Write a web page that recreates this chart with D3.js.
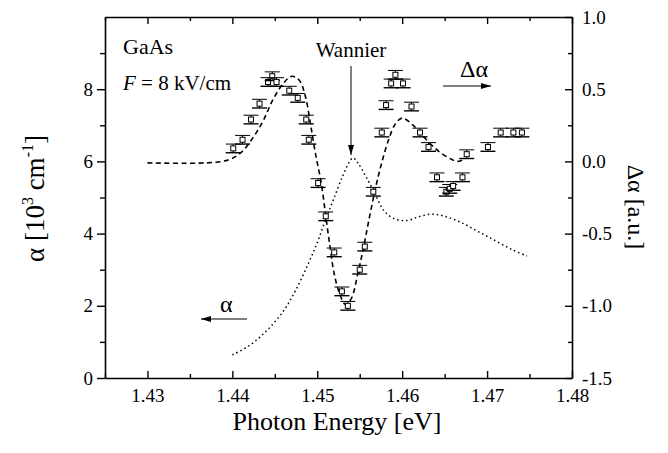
<!DOCTYPE html>
<html>
<head>
<meta charset="utf-8">
<script src="https://cdn.jsdelivr.net/npm/d3@7"></script>
<style>
  html, body { margin: 0; padding: 0; background: #fff; }
  svg, svg text { font-family: "Liberation Serif", "Times New Roman", Tinos, "DejaVu Serif", serif; }
</style>
</head>
<body>
<div id="chart"></div>
<script>
// --------------- Data ---------------
const X_TICKS = [1.43, 1.44, 1.45, 1.46, 1.47, 1.48];
const X_MINOR = [1.425, 1.435, 1.445, 1.455, 1.465, 1.475];
const ALPHA_TICKS = [0, 2, 4, 6, 8];
const ALPHA_MINOR = [1, 3, 5, 7, 9];
const DELTA_TICKS = [-1.5, -1.0, -0.5, 0.0, 0.5, 1.0];
const DELTA_MINOR = [-1.25, -0.75, -0.25, 0.25, 0.75];

// measured delta-alpha with error bars (right axis)
const pointE = [1.4401, 1.4412, 1.4422, 1.4432, 1.4442, 1.4447, 1.4452, 1.4467, 1.4477, 1.4487,
  1.4490, 1.4501, 1.4510, 1.4520, 1.4529, 1.4536, 1.4550, 1.4556, 1.4566, 1.4576,
  1.4581, 1.4587, 1.4592, 1.4601, 1.4611, 1.4621, 1.4631, 1.4641, 1.4652, 1.4656,
  1.4660, 1.4671, 1.4676, 1.4701, 1.4716, 1.4731, 1.4741];
const pointDelta = [0.09, 0.15, 0.29, 0.40, 0.55, 0.59, 0.55, 0.49, 0.44, 0.29,
  0.15, -0.15, -0.38, -0.63, -0.90, -1.00, -0.75, -0.59, -0.21, 0.20,
  0.39, 0.54, 0.60, 0.54, 0.38, 0.20, 0.10, -0.11, -0.21, -0.19,
  -0.17, -0.11, 0.05, 0.10, 0.20, 0.20, 0.20];
const pointErr = 0.03;

// dashed fit of delta-alpha (right axis)
const fitE = [1.4300, 1.4370, 1.4395, 1.4410, 1.4425, 1.4437, 1.4448, 1.4460, 1.4470, 1.4479,
  1.4486, 1.4492, 1.4498, 1.4505, 1.4510, 1.4515, 1.4520, 1.4526, 1.4533, 1.4540,
  1.4548, 1.4554, 1.4560, 1.4568, 1.4575, 1.4584, 1.4592, 1.4600, 1.4613, 1.4627,
  1.4643, 1.4658, 1.4665, 1.4675];
const fitDelta = [-0.01, -0.01, 0.01, 0.06, 0.17, 0.29, 0.43, 0.54, 0.59, 0.56,
  0.45, 0.26, 0.05, -0.16, -0.38, -0.59, -0.78, -0.91, -0.99, -0.95,
  -0.77, -0.61, -0.43, -0.20, -0.03, 0.15, 0.26, 0.30, 0.25, 0.16,
  0.07, 0.015, 0.0, 0.02];

// dotted absorption alpha (left axis)
const absE = [1.4400, 1.4420, 1.4440, 1.4460, 1.4475, 1.4490, 1.4500, 1.4510, 1.4520, 1.4530,
  1.4537, 1.4542, 1.4548, 1.4558, 1.4568, 1.4578, 1.4590, 1.4605, 1.4620, 1.4635,
  1.4650, 1.4670, 1.4690, 1.4710, 1.4730, 1.4747];
const absAlpha = [0.64, 0.90, 1.30, 1.85, 2.45, 3.20, 3.75, 4.40, 5.00, 5.60,
  5.95, 6.10, 5.95, 5.55, 5.10, 4.65, 4.42, 4.36, 4.47, 4.54,
  4.48, 4.30, 4.05, 3.80, 3.55, 3.38];

// --------------- Layout ---------------
const WIDTH = 668;
const HEIGHT = 453;
const PLOT = { left: 105, right: 572, top: 17, bottom: 378 };
const FONT = "'Liberation Serif', 'Times New Roman', Tinos, 'DejaVu Serif', serif";
const TICK_FONT = 19;
const LABEL_FONT = 26;

const svg = d3.select("#chart")
  .append("svg")
  .attr("width", WIDTH)
  .attr("height", HEIGHT)
  .attr("font-family", FONT);

const x = d3.scaleLinear().domain([1.425, 1.48]).range([PLOT.left, PLOT.right]);
const yAlpha = d3.scaleLinear().domain([0, 10]).range([PLOT.bottom, PLOT.top]);
const yDelta = d3.scaleLinear().domain([-1.5, 1.0]).range([PLOT.bottom, PLOT.top]);

// arrow head
svg.append("defs")
  .append("marker")
  .attr("id", "head")
  .attr("viewBox", "0 0 10 6")
  .attr("refX", 10)
  .attr("refY", 3)
  .attr("markerWidth", 10)
  .attr("markerHeight", 6)
  .attr("markerUnits", "userSpaceOnUse")
  .attr("orient", "auto")
  .append("path")
  .attr("d", "M0,0 L10,3 L0,6 Z")
  .attr("fill", "#000");

// --------------- Axes ---------------
function styleAxis(g) {
  g.attr("font-family", FONT);
  g.selectAll(".domain").attr("stroke", "#000").attr("stroke-width", 1.6);
  g.selectAll(".tick line").attr("stroke", "#000").attr("stroke-width", 1.4);
  g.selectAll("text")
    .attr("font-size", TICK_FONT)
    .attr("fill", "#000");
}

function minor(axis, values, size) {
  return g => {
    g.call(axis.tickValues(values).tickSizeInner(size).tickSizeOuter(0).tickFormat(""));
    g.select(".domain").remove();
    styleAxis(g);
  };
}

// bottom
svg.append("g")
  .attr("transform", `translate(0,${PLOT.bottom})`)
  .call(d3.axisBottom(x).tickValues(X_TICKS).tickFormat(d => d.toFixed(2))
    .tickSizeInner(-7).tickSizeOuter(0).tickPadding(11))
  .call(styleAxis);
svg.append("g")
  .attr("transform", `translate(0,${PLOT.bottom})`)
  .call(minor(d3.axisBottom(x), X_MINOR, -4));

// top
svg.append("g")
  .attr("transform", `translate(0,${PLOT.top})`)
  .call(d3.axisTop(x).tickValues(X_TICKS).tickFormat("").tickSizeInner(-7).tickSizeOuter(0))
  .call(styleAxis);
svg.append("g")
  .attr("transform", `translate(0,${PLOT.top})`)
  .call(minor(d3.axisTop(x), X_MINOR, -4));

// left
svg.append("g")
  .attr("transform", `translate(${PLOT.left},0)`)
  .call(d3.axisLeft(yAlpha).tickValues(ALPHA_TICKS).tickFormat(d3.format("d"))
    .tickSizeInner(8).tickSizeOuter(0).tickPadding(4))
  .call(styleAxis);
svg.append("g")
  .attr("transform", `translate(${PLOT.left},0)`)
  .call(minor(d3.axisLeft(yAlpha), ALPHA_MINOR, 5));

// right
svg.append("g")
  .attr("transform", `translate(${PLOT.right},0)`)
  .call(d3.axisRight(yDelta).tickValues(DELTA_TICKS).tickFormat(d => d.toFixed(1))
    .tickSizeInner(-7).tickSizeOuter(0).tickPadding(10))
  .call(styleAxis);
svg.append("g")
  .attr("transform", `translate(${PLOT.right},0)`)
  .call(minor(d3.axisRight(yDelta), DELTA_MINOR, -4));

// axis titles
svg.append("text")
  .attr("x", 337)
  .attr("y", 430)
  .attr("text-anchor", "middle")
  .attr("font-size", LABEL_FONT)
  .text("Photon Energy [eV]");

const leftTitle = svg.append("text")
  .attr("transform", "translate(44,262) rotate(-90)")
  .attr("text-anchor", "start")
  .attr("font-size", 27);
leftTitle.append("tspan").text("α [10");
leftTitle.append("tspan").attr("font-size", 16).attr("dy", -11).text("3");
leftTitle.append("tspan").attr("dy", 11).text(" cm");
leftTitle.append("tspan").attr("font-size", 16).attr("dy", -11).text("-1");
leftTitle.append("tspan").attr("dy", 11).text("]");

svg.append("text")
  .attr("transform", "translate(628,207) rotate(90)")
  .attr("text-anchor", "middle")
  .attr("font-size", 24)
  .text("Δα [a.u.]");

// --------------- Curves ---------------
const absLine = d3.line()
  .x(i => x(absE[i]))
  .y(i => yAlpha(absAlpha[i]))
  .curve(d3.curveCatmullRom);

svg.append("path")
  .attr("d", absLine(d3.range(absE.length)))
  .attr("fill", "none")
  .attr("stroke", "#000")
  .attr("stroke-width", 1.5)
  .attr("stroke-dasharray", "1.5,3");

const fitLine = d3.line()
  .x(i => x(fitE[i]))
  .y(i => yDelta(fitDelta[i]))
  .curve(d3.curveCatmullRom);

svg.append("path")
  .attr("d", fitLine(d3.range(fitE.length)))
  .attr("fill", "none")
  .attr("stroke", "#000")
  .attr("stroke-width", 1.6)
  .attr("stroke-dasharray", "5,3.5");

// --------------- Data points with error bars ---------------
const CAP = 7.5;
const BOX = 5;
const pts = svg.append("g")
  .selectAll("g")
  .data(d3.range(pointE.length))
  .enter()
  .append("g")
  .attr("transform", i => `translate(${x(pointE[i])},0)`);

pts.append("line")
  .attr("y1", i => yDelta(pointDelta[i] - pointErr))
  .attr("y2", i => yDelta(pointDelta[i] + pointErr))
  .attr("stroke", "#000");
pts.append("line")
  .attr("x1", -CAP).attr("x2", CAP)
  .attr("y1", i => yDelta(pointDelta[i] + pointErr))
  .attr("y2", i => yDelta(pointDelta[i] + pointErr))
  .attr("stroke", "#000");
pts.append("line")
  .attr("x1", -CAP).attr("x2", CAP)
  .attr("y1", i => yDelta(pointDelta[i] - pointErr))
  .attr("y2", i => yDelta(pointDelta[i] - pointErr))
  .attr("stroke", "#000")
  .attr("stroke-width", 1.4);
pts.append("rect")
  .attr("x", -BOX / 2)
  .attr("y", i => yDelta(pointDelta[i]) - BOX / 2)
  .attr("width", BOX)
  .attr("height", BOX)
  .attr("fill", "#fff")
  .attr("stroke", "#000");

// --------------- Annotations ---------------
svg.append("text").attr("x", 123).attr("y", 54).attr("font-size", 22).text("GaAs");

const field = svg.append("text").attr("x", 123).attr("y", 90).attr("font-size", 21);
field.append("tspan").attr("font-style", "italic").text("F");
field.append("tspan").text(" = 8 kV/cm");

svg.append("text")
  .attr("x", 351).attr("y", 57)
  .attr("text-anchor", "middle")
  .attr("font-size", 21)
  .text("Wannier");
svg.append("line")
  .attr("x1", 351).attr("y1", 66)
  .attr("x2", 351).attr("y2", 155)
  .attr("stroke", "#000")
  .attr("marker-end", "url(#head)");

svg.append("text").attr("x", 460).attr("y", 77).attr("font-size", 24).text("Δα");
svg.append("line")
  .attr("x1", 443).attr("y1", 86)
  .attr("x2", 491).attr("y2", 86)
  .attr("stroke", "#000")
  .attr("marker-end", "url(#head)");

svg.append("text").attr("x", 220).attr("y", 312).attr("font-size", 24).text("α");
svg.append("line")
  .attr("x1", 247).attr("y1", 319)
  .attr("x2", 201).attr("y2", 319)
  .attr("stroke", "#000")
  .attr("marker-end", "url(#head)");
</script>
</body>
</html>
